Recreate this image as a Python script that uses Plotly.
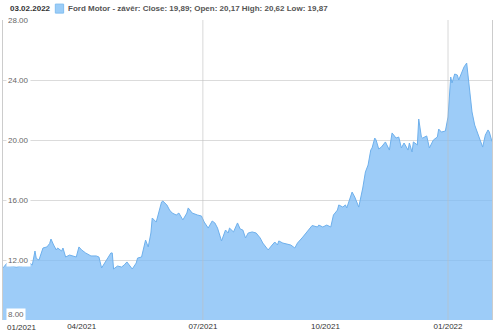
import plotly.graph_objects as go

dates = [
    "2021-02-01", "2021-02-04", "2021-02-07", "2021-02-11", "2021-02-15", "2021-02-18", "2021-02-19",
    "2021-02-21", "2021-02-23", "2021-02-25", "2021-02-26", "2021-02-28", "2021-03-03", "2021-03-06",
    "2021-03-08", "2021-03-09", "2021-03-11", "2021-03-13", "2021-03-14", "2021-03-17", "2021-03-18",
    "2021-03-20", "2021-03-23", "2021-03-25", "2021-03-28", "2021-03-30", "2021-04-01", "2021-04-04",
    "2021-04-08", "2021-04-12", "2021-04-14", "2021-04-16", "2021-04-19", "2021-04-23", "2021-04-24",
    "2021-04-25", "2021-04-28", "2021-05-01", "2021-05-03", "2021-05-05", "2021-05-09", "2021-05-12",
    "2021-05-13", "2021-05-16", "2021-05-19", "2021-05-21", "2021-05-23", "2021-05-24", "2021-05-27",
    "2021-05-28", "2021-05-31", "2021-06-01", "2021-06-04", "2021-06-06", "2021-06-08", "2021-06-11",
    "2021-06-13", "2021-06-16", "2021-06-19", "2021-06-20", "2021-06-23", "2021-06-27", "2021-06-30",
    "2021-07-02", "2021-07-05", "2021-07-08", "2021-07-10", "2021-07-12", "2021-07-15", "2021-07-18",
    "2021-07-20", "2021-07-21", "2021-07-24", "2021-07-27", "2021-07-29", "2021-07-31", "2021-08-02",
    "2021-08-04", "2021-08-07", "2021-08-10", "2021-08-13", "2021-08-15", "2021-08-19", "2021-08-22",
    "2021-08-24", "2021-08-26", "2021-08-27", "2021-08-30", "2021-09-02", "2021-09-05", "2021-09-08",
    "2021-09-10", "2021-09-14", "2021-09-18", "2021-09-21", "2021-09-25", "2021-09-26", "2021-09-29",
    "2021-10-02", "2021-10-05", "2021-10-07", "2021-10-10", "2021-10-11", "2021-10-14", "2021-10-16",
    "2021-10-17", "2021-10-21", "2021-10-23", "2021-10-26", "2021-10-29", "2021-10-31", "2021-11-02",
    "2021-11-04", "2021-11-05", "2021-11-07", "2021-11-08", "2021-11-10", "2021-11-12", "2021-11-14",
    "2021-11-15", "2021-11-18", "2021-11-20", "2021-11-23", "2021-11-25", "2021-11-27", "2021-11-29",
    "2021-12-02", "2021-12-03", "2021-12-05", "2021-12-06", "2021-12-09", "2021-12-10", "2021-12-12",
    "2021-12-13", "2021-12-16", "2021-12-18", "2021-12-21", "2021-12-24", "2021-12-25", "2021-12-27",
    "2021-12-30", "2022-01-01", "2022-01-03", "2022-01-04", "2022-01-06", "2022-01-08", "2022-01-09",
    "2022-01-11", "2022-01-13", "2022-01-15", "2022-01-16", "2022-01-18", "2022-01-19", "2022-01-21",
    "2022-01-24", "2022-01-27", "2022-01-29", "2022-01-31", "2022-02-01", "2022-02-03",
]
close = [
    11.47, 11.8, 11.6, 11.53, 11.6, 11.8, 12.2,
    11.8, 11.67, 12.6, 12.1, 12.0, 12.8, 12.87,
    13.1, 13.4, 13.0, 12.67, 12.8, 12.6, 12.8,
    12.2, 12.33, 12.27, 12.2, 12.87, 12.67, 12.47,
    12.27, 12.27, 12.2, 11.47, 11.87, 12.47, 12.47,
    11.4, 11.6, 11.53, 11.67, 11.87, 11.4, 11.8,
    12.13, 12.2, 13.33, 12.87, 13.8, 14.8, 14.53,
    14.87, 15.87, 15.93, 15.67, 15.33, 15.13, 15.0,
    15.13, 14.67, 15.13, 15.47, 15.13, 15.0, 14.93,
    14.53, 14.13, 14.6, 14.47, 14.13, 13.27, 14.0,
    13.8, 14.13, 13.87, 14.47, 14.07, 14.0, 13.47,
    13.8, 13.87, 13.8, 13.47, 13.13, 12.67, 13.0,
    13.2, 13.0, 13.27, 13.13, 13.07, 13.0, 12.8,
    13.13, 13.53, 14.0, 14.3, 14.2, 14.33, 14.2,
    14.33, 14.2, 15.0, 15.33, 15.67, 15.53, 15.67,
    15.47, 16.53, 16.2, 15.53, 16.8, 17.87, 18.33,
    19.33, 19.47, 20.13, 20.0, 19.4, 19.53, 19.8,
    19.87, 19.33, 20.47, 20.13, 20.2, 19.47, 19.8,
    19.33, 19.8, 19.2, 19.87, 19.67, 21.4, 20.2,
    20.13, 20.27, 19.47, 20.0, 20.2, 20.73, 20.53,
    20.6, 21.53, 24.2, 23.8, 24.4, 24.33, 24.0,
    24.47, 24.87, 25.13, 24.2, 22.87, 21.87, 21.0,
    20.33, 19.53, 20.33, 20.67, 20.53, 19.89,
]

y_ticks = [8, 12, 16, 20, 24, 28]
y_labels = ["8.00", "12.00", "16.00", "20.00", "24.00", "28.00"]
x_ticks = ["2021-04-01", "2021-07-01", "2021-10-01", "2022-01-01"]
x_labels = ["04/2021", "07/2021", "10/2021", "01/2022"]
x_grid = ["2021-07-01", "2022-01-01"]
first_label = "01/2021"
title_date = "03.02.2022"
legend_text = "Ford Motor - závěr: Close: 19,89; Open: 20,17 High: 20,62 Low: 19,87"

FONT = "Liberation Sans, Arial, sans-serif"

fig = go.Figure()
fig.add_trace(go.Scatter(
    x=dates, y=close, mode="lines",
    line=dict(color="rgb(110,176,236)", width=1),
    fill="tozeroy", fillcolor="rgba(124,187,245,0.75)",
    hoverinfo="skip", showlegend=False,
))

for xv in x_grid:
    fig.add_shape(type="line", xref="x", yref="paper", x0=xv, x1=xv, y0=0, y1=1,
                  line=dict(color="rgba(190,190,190,0.6)", width=1), layer="above")

for v, t in zip(y_ticks, y_labels):
    lowest = v == y_ticks[0]
    fig.add_annotation(x=0, xref="paper", y=v, yref="y", text=t, showarrow=False,
                       xanchor="left", yanchor="bottom" if lowest else "middle",
                       xshift=3, yshift=-1 if lowest else 0,
                       font=dict(family=FONT, size=8, color="#666"),
                       bgcolor="white", borderpad=1)

fig.add_annotation(x=0, xref="paper", y=0, yref="paper", text=first_label, showarrow=False,
                   xanchor="left", yanchor="top", xshift=2, yshift=-1,
                   font=dict(family=FONT, size=8, color="#333"))

fig.add_annotation(x=0.01, xref="paper", y=1, yref="paper", text="<b>" + title_date + "</b>",
                   showarrow=False, xanchor="left", yanchor="bottom", yshift=5,
                   font=dict(family=FONT, size=8, color="#333"))

fig.add_annotation(x=0.128, xref="paper", y=1, yref="paper", text="<b>" + legend_text + "</b>",
                   showarrow=False, xanchor="left", yanchor="bottom", yshift=5,
                   font=dict(family=FONT, size=8, color="#555"))

fig.add_shape(type="rect", xref="paper", yref="paper", x0=0.107, x1=0.124, y0=1.023, y1=1.053,
              fillcolor="rgb(155,205,248)", line=dict(color="rgb(130,190,240)", width=1))

fig.update_layout(
    width=500, height=333,
    margin=dict(l=3, r=8, t=20, b=13),
    paper_bgcolor="white", plot_bgcolor="white",
    xaxis=dict(
        type="date", range=["2021-02-01", "2022-02-03"],
        tickvals=x_ticks, ticktext=x_labels, showgrid=False, zeroline=False,
        tickfont=dict(family=FONT, size=8, color="#333"), ticks="", ticklen=0,
        showline=False,
    ),
    yaxis=dict(
        range=[8, 28], tickvals=y_ticks, showticklabels=False, showgrid=True,
        gridcolor="rgba(210,210,210,0.8)", gridwidth=1, zeroline=False,
        showline=True, linecolor="#ccc", linewidth=1, mirror=True,
    ),
)

fig.write_html("out.html")
